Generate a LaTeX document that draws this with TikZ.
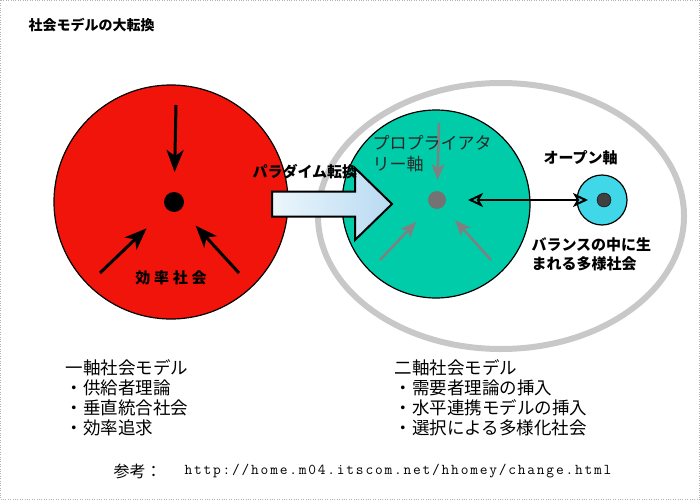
\documentclass[tikz,border=0pt]{standalone}
\usepackage{fontspec}
\setmainfont{Noto Sans CJK JP}
\newfontfamily\jpwide[LetterSpace=25]{Noto Sans CJK JP}
\newfontfamily\urlfont[LetterSpace=12]{Latin Modern Mono}
\usepackage{xcolor}
\usepackage{tikz}
\usetikzlibrary{arrows.meta,positioning}
\definecolor{effRed}{RGB}{240,20,10}
\definecolor{propTeal}{RGB}{0,204,170}
\definecolor{openCyan}{RGB}{64,216,232}
\definecolor{ringGray}{RGB}{200,200,200}
\definecolor{arrGray}{RGB}{128,128,128}
\definecolor{shiftLight}{RGB}{236,246,252}
\definecolor{shiftBlue}{RGB}{184,218,242}
\definecolor{txtDark}{RGB}{40,40,40}

\begin{document}
\begin{tikzpicture}[x=1pt,y=-1pt,
  bigball/.style={circle, draw, line width=1.2pt, inner sep=0pt},
  blackarr/.style={line width=3pt, -{Stealth[length=22pt,width=17pt,inset=6pt]}},
  grayarr/.style={arrGray, line width=2.5pt, -{Stealth[length=16pt,width=13pt,inset=4pt]}},
  boldlbl/.style={anchor=west, font=\bfseries\fontsize{15}{18}\selectfont},
  listline/.style={anchor=west, font=\fontsize{17.5}{20}\selectfont}]
\useasboundingbox (0,0) rectangle (700,500);
\draw[gray!60, dotted] (0.5,0.5) rectangle (699.5,499.5);
\node[anchor=west, font=\bfseries\fontsize{14}{16}\selectfont] (title) at (25,25) {社会モデルの大転換};

% one-axis society
\node[bigball, fill=effRed, minimum size=234pt] (effsoc) at (171,202) {};
\node[circle, fill=black, minimum size=20pt, inner sep=0pt] (effcore) at (174,202) {};
\coordinate (effin1) at (176,105);
\coordinate (effin2) at (100,273);
\coordinate (effin3) at (239,273);
\draw[blackarr, shorten >=30pt] (effin1) -- (effcore.center);
\draw[blackarr, shorten >=38pt] (effin2) -- (effcore.center);
\draw[blackarr, shorten >=32pt] (effin3) -- (effcore.center);
\node[font=\jpwide\bfseries\fontsize{15}{18}\selectfont] (efflbl) at (171,278) {効率社会};

% two-axis society
\draw[ringGray, line width=6pt] (501,216) ellipse [x radius=183, y radius=133];
\node[bigball, fill=propTeal, minimum size=188pt] (propsoc) at (436,204) {};
\node[circle, fill=black!55, minimum size=18pt, inner sep=0pt] (propcore) at (437,200) {};
\node[bigball, fill=openCyan, minimum size=50pt] (opensoc) at (602,200) {};
\node[circle, draw=black, fill=black!75, minimum size=14pt, inner sep=0pt] (opencore) at (604,200) {};
\coordinate (propin1) at (439,123);
\coordinate (propin2) at (380,260);
\coordinate (propin3) at (491,260);
\draw[grayarr, shorten >=20pt] (propin1) -- (propcore.center);
\draw[grayarr, shorten >=30pt] (propin2) -- (propcore.center);
\draw[grayarr, shorten >=27pt] (propin3) -- (propcore.center);
\draw[line width=2pt, {Stealth[open,length=15pt,width=14pt,inset=4pt]}-{Stealth[open,length=15pt,width=14pt,inset=4pt]},
  shorten <=31pt, shorten >=14pt] (propcore.center) -- (opensoc.center);
\node[anchor=west, text=txtDark, font=\fontsize{17}{20}\selectfont] (proplbl1) at (369,143) {プロプライアタ};
\node[anchor=west, text=txtDark, font=\fontsize{17}{20}\selectfont] (proplbl2) at (369,164) {リー軸};
\node[boldlbl] (openlbl) at (540,158) {オープン軸};
\node[boldlbl] (balance1) at (528,245) {バランスの中に生};
\node[boldlbl] (balance2) at (528,264) {まれる多様社会};

% paradigm shift
\draw[line width=2pt, left color=shiftLight, right color=shiftBlue]
  (272,191.5) -- (355,191.5) -- (355,168) -- (392,204) -- (355,240) -- (355,216.5) -- (272,216.5) -- cycle;
\node[boldlbl] (shiftlbl) at (249,172) {パラダイム転換};

% lists
\node[listline] (oneax) at (62,368) {一軸社会モデル};
\node[listline] (oneax1) at (62,388) {・供給者理論};
\node[listline] (oneax2) at (62,408) {・垂直統合社会};
\node[listline] (oneax3) at (62,428) {・効率追求};
\node[listline] (twoax) at (391,368) {二軸社会モデル};
\node[listline] (twoax1) at (391,388) {・需要者理論の挿入};
\node[listline] (twoax2) at (391,408) {・水平連携モデルの挿入};
\node[listline] (twoax3) at (391,428) {・選択による多様化社会};

\node[anchor=west, font=\fontsize{16}{18}\selectfont] (reflbl) at (110,471) {参考：};
\node[anchor=west, font=\urlfont\fontsize{15}{18}\selectfont] (refurl) at (181,471) {http://home.m04.itscom.net/hhomey/change.html};
\end{tikzpicture}
\end{document}
